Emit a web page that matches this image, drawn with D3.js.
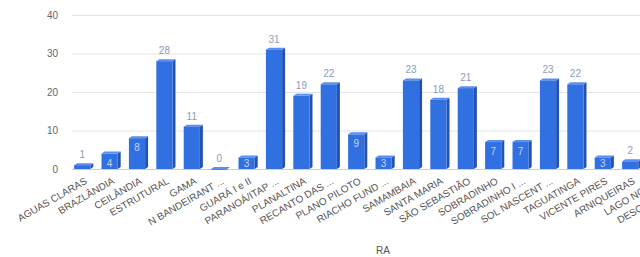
<!DOCTYPE html>
<html>
<head>
<meta charset="utf-8">
<script src="https://cdn.jsdelivr.net/npm/d3@7"></script>
<style>
  body { margin: 0; background: #fff; }
  svg { display: block; }
</style>
</head>
<body>
<script>
// Chart data
//= ================================
var categories = ['AGUAS CLARAS', 'BRAZLÂNDIA', 'CEILÂNDIA', 'ESTRUTURAL', 'GAMA', 'N BANDEIRANT ...',
  'GUARÁ I e II', 'PARANOÁ/ITAP ...', 'PLANALTINA', 'RECANTO DAS ...', 'PLANO PILOTO', 'RIACHO FUND ...',
  'SAMAMBAIA', 'SANTA MARIA', 'SÃO SEBASTIÃO', 'SOBRADINHO', 'SOBRADINHO I ...', 'SOL NASCENT ...',
  'TAGUATINGA', 'VICENTE PIRES', 'ARNIQUEIRAS', 'LAGO NORTE', 'DESCONHECIDO'];
var values = [1, 4, 8, 28, 11, 0, 3, 31, 19, 22, 9, 3, 23, 18, 21, 7, 7, 23, 22, 3, 2, 4, 3];
var yTicks = [0, 10, 20, 30, 40];
var axisTitle = 'RA';

let svgWidth = 640;
let svgHeight = 257;
let depthX = 3, depthY = -2;
let font = "'Liberation Sans', Arial, sans-serif";

let svg = d3.select("body")
  .append("svg")
  .attr("width", svgWidth)
  .attr("height", svgHeight);

// scales
let xScale = d3.scaleBand()
  .domain(categories)
  .range([70, 70 + categories.length * 27.4])
  .paddingInner(0.3)
  .paddingOuter(0.15);

let yScale = d3.scaleLinear()
  .domain([0, 40])
  .range([169, 15]);

// gridlines
svg.append("g")
  .attr("transform", "translate(72,0)")
  .call(d3.axisLeft(yScale).tickValues(yTicks).tickSize(-(svgWidth - 72)).tickFormat(''))
  .call(g => g.select(".domain").remove())
  .call(g => g.selectAll("line").attr("stroke", d => d === 0 ? "#cfcfcf" : "#e4e4e4"));

// y labels
svg.append("g")
  .attr("transform", "translate(58,0)")
  .call(d3.axisLeft(yScale).tickValues(yTicks).tickSize(0).tickPadding(0))
  .call(g => g.select(".domain").remove())
  .call(g => g.selectAll("text")
    .attr("font-family", font)
    .attr("font-size", "10px")
    .attr("fill", "#666"));

// 3D bars
let bars = svg.append("g").selectAll("g")
  .data(values)
  .enter()
  .append("g");

bars.each(function(v, i) {
  let g = d3.select(this);
  let x0 = xScale(categories[i]);
  let w = xScale.bandwidth() - depthX;
  let y0 = yScale(v);
  let yb = yScale(0);
  // side
  g.append("polygon")
    .attr("points", [[x0 + w, y0], [x0 + w + depthX, y0 + depthY], [x0 + w + depthX, yb + depthY], [x0 + w, yb]].join(" "))
    .attr("fill", "#2452b0");
  // top
  g.append("polygon")
    .attr("points", [[x0, y0], [x0 + depthX, y0 + depthY], [x0 + w + depthX, y0 + depthY], [x0 + w, y0]].join(" "))
    .attr("fill", "#5b8ef0");
  // front
  g.append("rect")
    .attr("x", x0)
    .attr("y", y0)
    .attr("width", w)
    .attr("height", Math.max(yb - y0, 0.8))
    .attr("fill", "#3170e0");
});

// value labels
svg.append("g").selectAll("text")
  .data(values)
  .enter()
  .append("text")
  .attr("x", (d, i) => xScale(categories[i]) + (xScale.bandwidth() - depthX) / 2)
  .attr("y", d => {
    if (d >= 3 && d <= 9) return Math.min(yScale(d) + 13, yScale(0) - 2);
    return yScale(d) - 7;
  })
  .attr("text-anchor", "middle")
  .attr("font-family", font)
  .attr("font-size", "10px")
  .attr("fill", d => (d >= 3 && d <= 9) ? "#c3d4f7" : "#8b9bbd")
  .text(d => d);

// x labels
svg.append("g").selectAll("text")
  .data(categories)
  .enter()
  .append("text")
  .attr("transform", d => `translate(${xScale(d) + xScale.bandwidth() / 2 + 4}, 183) rotate(-30)`)
  .attr("text-anchor", "end")
  .attr("font-family", font)
  .attr("font-size", "10px")
  .attr("fill", "#555")
  .text(d => d);

// axis title
svg.append("text")
  .attr("x", 383)
  .attr("y", 254)
  .attr("text-anchor", "middle")
  .attr("font-family", font)
  .attr("font-size", "10px")
  .attr("fill", "#555")
  .text(axisTitle);
</script>
</body>
</html>
